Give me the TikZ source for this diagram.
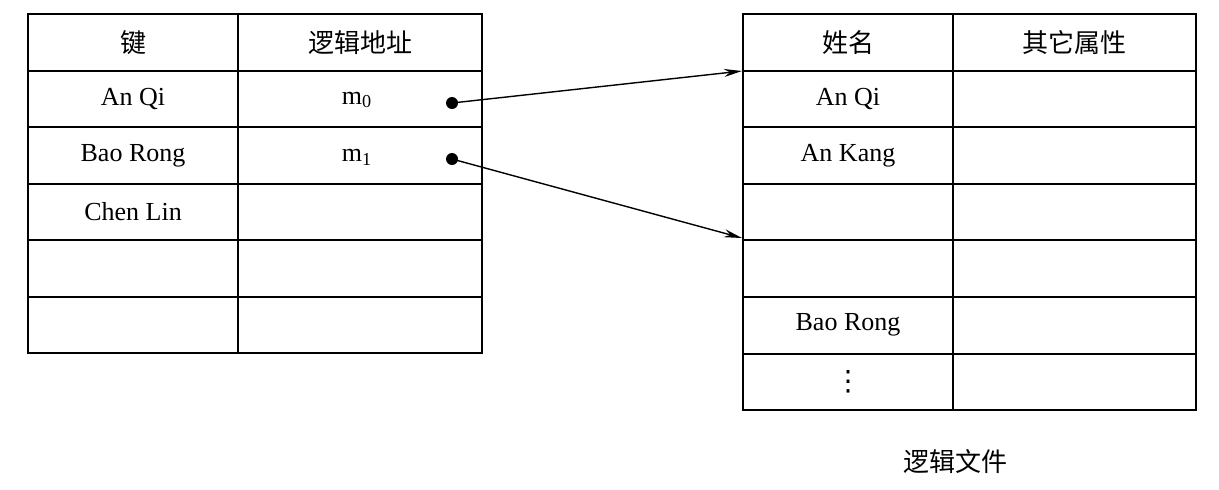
\documentclass[tikz,border=0pt]{standalone}
\usepackage{fontspec}
\setmainfont{Liberation Serif}
\newfontfamily\cjk{Noto Sans CJK SC}
\newfontfamily\dvs{DejaVu Sans}
\usetikzlibrary{arrows.meta}
\begin{document}
\begin{tikzpicture}[x=0.5pt,y=-0.5pt,
  tbl/.style={line width=0.8pt},
  txt/.style={font=\fontsize{13}{15}\selectfont, inner sep=0pt},
  ch/.style={font=\cjk\fontsize{13}{15}\selectfont, inner sep=0pt},
  arr/.style={line width=0.7pt,-{Stealth[length=9pt,width=4pt]}}]
\useasboundingbox (0,0) rectangle (1219,489);
% left table
\draw[tbl] (28,14) rectangle (482,353);
\draw[tbl] (238,14) -- (238,353);
\foreach \y in {71,127,184,240,297} \draw[tbl] (28,\y) -- (482,\y);
% right table
\draw[tbl] (743,14) rectangle (1196,410);
\draw[tbl] (953,14) -- (953,410);
\foreach \y in {71,127,184,240,297,354} \draw[tbl] (743,\y) -- (1196,\y);
% left texts
\node[ch] (k) at (133,43) {键};
\node[ch] (la) at (360,43) {逻辑地址};
\node[txt] (l1) at (133,99) {An Qi};
\node[txt] (l2) at (133,156) {Bao Rong};
\node[txt] (l3) at (133,212) {Chen Lin};
\node[txt] (m0) at (357,100) {m\textsubscript{0}};
\node[txt] (m1) at (357,157) {m\textsubscript{1}};
% right texts
\node[ch] (xm) at (848,43) {姓名};
\node[ch] (qt) at (1074,43) {其它属性};
\node[txt] (r1) at (848,99) {An Qi};
\node[txt] (r2) at (848,156) {An Kang};
\node[txt] (r6) at (848,325) {Bao Rong};
\node[txt,font=\dvs\fontsize{14}{16}\selectfont] (r7) at (848,382) {⋮};
\node[ch] (cap) at (955,462) {逻辑文件};
% pointers
\coordinate (d0) at (452,103);
\coordinate (d1) at (452,159);
\coordinate (t0) at (742,71);
\coordinate (t1) at (742,238);
\fill (d0) circle (6);
\fill (d1) circle (6);
\draw[arr] (d0) -- (t0);
\draw[arr] (d1) -- (t1);
\end{tikzpicture}
\end{document}
